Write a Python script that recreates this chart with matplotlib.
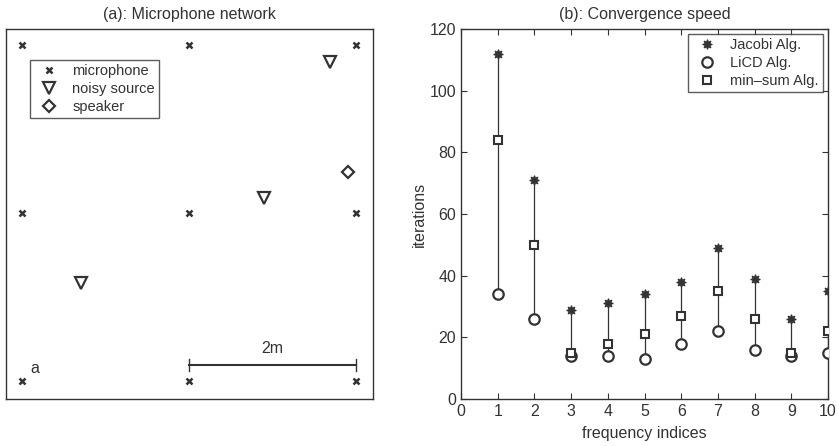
import matplotlib
matplotlib.use("Agg")
import matplotlib.pyplot as plt
import numpy as np

plt.rcParams['font.family'] = ['Liberation Sans', 'DejaVu Sans']
plt.rcParams['font.size'] = 11.5

# Panel (a) data
mic_x = [0, 2, 4, 0, 2, 4, 0, 2, 4]
mic_y = [4, 4, 4, 2, 2, 2, 0, 0, 0]
noise_x = [3.69, 2.90, 0.71]
noise_y = [3.80, 2.18, 1.17]
spk_x = [3.90]
spk_y = [2.49]

# Panel (b) data
freq = [1, 2, 3, 4, 5, 6, 7, 8, 9, 10]
jacobi = [112, 71, 29, 31, 34, 38, 49, 39, 26, 35]
licd = [34, 26, 14, 14, 13, 18, 22, 16, 14, 15]
minsum = [84, 50, 15, 18, 21, 27, 35, 26, 15, 22]

C = '#333333'
FS = 11.5
LFS = 10.5
fig = plt.figure(figsize=(8.39, 4.46), dpi=100)

# Left axes
axa = fig.add_axes([6/839, 1 - 399/446, 367/839, 370/446])
axa.plot(mic_x, mic_y, 'x', color=C, ms=5, mew=1.8, label='microphone', ls='none')
axa.plot(noise_x, noise_y, 'v', mfc='none', mec=C, ms=9, mew=1.6, label='noisy source', ls='none')
axa.plot(spk_x, spk_y, 'D', mfc='none', mec=C, ms=6.5, mew=1.6, label='speaker', ls='none')
axa.set_xlim(-0.19, 4.2)
axa.set_ylim(-0.21, 4.19)
axa.set_xticks([]); axa.set_yticks([])
for s in axa.spines.values():
    s.set_color(C); s.set_linewidth(1.0)
axa.set_title('(a): Microphone network', fontsize=FS, color=C, pad=7)
# scale bar
axa.plot([2, 4], [0.19, 0.19], color=C, lw=1.5)
axa.plot([2, 2], [0.12, 0.26], color=C, lw=1.0)
axa.plot([4, 4], [0.12, 0.26], color=C, lw=1.0)
axa.text(3.0, 0.30, '2m', ha='center', va='bottom', fontsize=FS, color=C)
axa.text(0.16, 0.15, 'a', ha='center', va='center', fontsize=FS, color=C)
leg = axa.legend(loc='upper left', bbox_to_anchor=(24/367, 1 - 31/370), frameon=True, fancybox=False,
                 edgecolor=C, fontsize=LFS, handletextpad=0.6, borderpad=0.3, labelspacing=0.25,
                 handlelength=2.0, borderaxespad=0)
leg.get_frame().set_linewidth(1.0)
for t in leg.get_texts():
    t.set_color(C)

# Right axes
axb = fig.add_axes([461/839, 1 - 399/446, 367/839, 370/446])
for f, j, l in zip(freq, jacobi, licd):
    axb.plot([f, f], [l, j], color=C, lw=0.9, zorder=1)
axb.plot(freq, jacobi, marker=(8, 1, 0), color=C, ms=7, mew=0.8, ls='none', label='Jacobi Alg.', zorder=3)
axb.plot(freq, licd, 'o', mfc='white', mec=C, ms=7.5, mew=1.6, ls='none', label='LiCD Alg.', zorder=3)
axb.plot(freq, minsum, 's', mfc='white', mec=C, ms=6, mew=1.5, ls='none', label='min\u2013sum Alg.', zorder=3)
axb.set_xlim(0, 10)
axb.set_ylim(0, 120)
axb.set_xticks(range(0, 11))
axb.set_yticks(range(0, 121, 20))
axb.tick_params(direction='in', top=True, right=True, length=4, colors=C, labelcolor=C, labelsize=FS)
for s in axb.spines.values():
    s.set_color(C); s.set_linewidth(1.0)
axb.set_xlabel('frequency indices', color=C, fontsize=FS, labelpad=5)
axb.set_ylabel('iterations', color=C, fontsize=FS, labelpad=2)
axb.set_title('(b): Convergence speed', fontsize=FS, color=C, pad=7)
leg2 = axb.legend(loc='upper right', bbox_to_anchor=(1 - 5/367, 1 - 5/370), frameon=True, fancybox=False,
                  edgecolor=C, fontsize=LFS, handletextpad=0.6, borderpad=0.3, labelspacing=0.25,
                  handlelength=2.0, borderaxespad=0)
leg2.get_frame().set_linewidth(1.0)
for t in leg2.get_texts():
    t.set_color(C)

fig.savefig('out.png', dpi=100)
